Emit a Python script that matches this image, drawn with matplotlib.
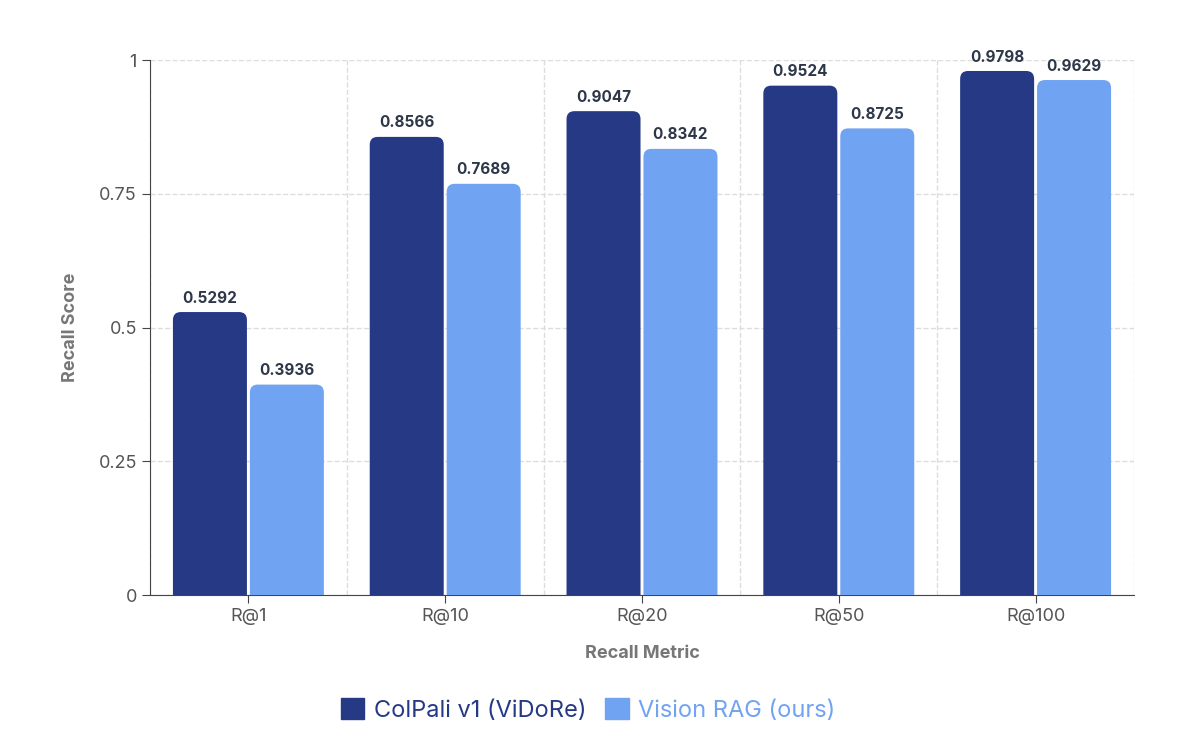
import matplotlib.pyplot as plt
from matplotlib.patches import FancyBboxPatch, Patch

plt.rcParams['font.family'] = ['Inter', 'DejaVu Sans']

metrics = ['R@1', 'R@10', 'R@20', 'R@50', 'R@100']
colpali = [0.5292, 0.8566, 0.9047, 0.9524, 0.9798]
vision_rag = [0.3936, 0.7689, 0.8342, 0.8725, 0.9629]

dark = '#263985'
light = '#70a3f2'

fig = plt.figure(figsize=(12, 7.43), dpi=100)
ax = fig.add_axes([0.125, 0.199, 0.82, 0.72])
ax.set_xlim(-0.5, len(metrics) - 0.5)
ax.set_ylim(0, 1)

w = 0.376
gap = 0.015
for i in range(len(metrics)):
    for val, off, col in [(colpali[i], -(w + gap) / 2, dark), (vision_rag[i], (w + gap) / 2, light)]:
        x0 = i + off - w / 2
        box = FancyBboxPatch((x0, -0.05), w, val + 0.05,
                             boxstyle='round,pad=0,rounding_size=0.04',
                             mutation_aspect=0.368, fc=col, ec='none', zorder=3)
        ax.add_patch(box)
        ax.text(i + off, val + 0.012, f'{val:.4f}', ha='center', va='bottom',
                fontsize=11, fontweight='bold', color='#2d3748', zorder=4)

ax.set_xticks(range(len(metrics)))
ax.set_xticklabels(metrics)
ax.set_yticks([0, 0.25, 0.5, 0.75, 1])
ax.set_yticklabels(['0', '0.25', '0.5', '0.75', '1'])
ax.tick_params(labelsize=13, colors='#555555', length=6, color='#444444')
ax.set_xticks([i + 0.5 for i in range(-1, len(metrics))], minor=True)
ax.grid(True, which='minor', axis='x', ls='--', color='#dddddd', lw=1)
ax.grid(True, which='major', axis='y', ls='--', color='#dddddd', lw=1)
ax.tick_params(which='minor', length=0)
ax.set_axisbelow(True)
for s in ['top', 'right']:
    ax.spines[s].set_visible(False)
for s in ['left', 'bottom']:
    ax.spines[s].set_color('#444444')

ax.set_xlabel('Recall Metric', fontsize=13, fontweight='bold', color='#777777', labelpad=14)
ax.set_ylabel('Recall Score', fontsize=13, fontweight='bold', color='#777777', labelpad=14)

handles = [Patch(color=dark), Patch(color=light)]
leg = fig.legend(handles, ['ColPali v1 (ViDoRe)', 'Vision RAG (ours)'], loc='lower center',
                 bbox_to_anchor=(0.49, 0.0), ncol=2, frameon=False, fontsize=17,
                 handlelength=1.0, handleheight=1.0, columnspacing=0.8, handletextpad=0.4)
leg.get_texts()[0].set_color(dark)
leg.get_texts()[1].set_color(light)

fig.savefig('out.png', dpi=100)
